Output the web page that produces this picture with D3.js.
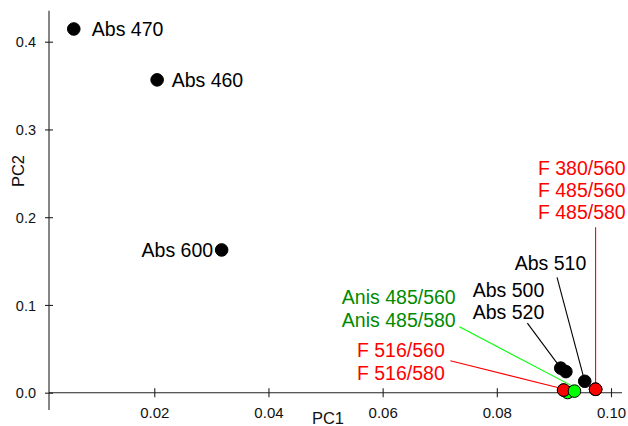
<!DOCTYPE html>
<html>
<head>
<meta charset="utf-8">
<script src="https://cdn.jsdelivr.net/npm/d3@7"></script>
<style>
  html, body { margin: 0; padding: 0; background: #fff; }
  svg { display: block; font-family: "Liberation Sans", Arial, sans-serif; }
</style>
</head>
<body>
<svg id="chart" width="628" height="426"></svg>
<script>
// Loadings of each measurement on the first two principal components
const names = ["Abs 470", "Abs 460", "Abs 600", "Abs 500", "Abs 520", "Abs 510",
               "Anis 485/560", "F 516/560", "F 516/580", "Anis 485/580",
               "F 380/560", "F 485/560", "F 485/580"];
const pc1 = [0.0059, 0.0205, 0.0318, 0.0912, 0.0921, 0.0954,
             0.0924, 0.0917, 0.0917, 0.0936,
             0.0973, 0.0973, 0.0973];
const pc2 = [0.4145, 0.3565, 0.1627, 0.0280, 0.0240, 0.0130,
             0.0002, 0.0030, 0.0030, 0.0018,
             0.0039, 0.0039, 0.0039];
const kinds = ["Abs", "Abs", "Abs", "Abs", "Abs", "Abs",
               "Anis", "F", "F", "Anis",
               "F", "F", "F"];

const xTicks = [0.02, 0.04, 0.06, 0.08, 0.10];
const yTicks = [0.0, 0.1, 0.2, 0.3, 0.4];

const points = names.map((n, i) => ({ name: n, pc1: pc1[i], pc2: pc2[i], kind: kinds[i] }));

const fill = { Abs: "#000000", Anis: "#00ff00", F: "#ff0000" };
const textColor = { Abs: "#000000", Anis: "#008a00", F: "#ff0000" };
const leaderColor = { Abs: "#000000", Anis: "#00ff00", F: "#ff0000" };

const svg = d3.select("#chart");

const x = d3.scaleLinear().domain([0, 0.1]).range([40.1, 611]);
const y = d3.scaleLinear().domain([0, 0.4]).range([392.7, 41.7]);

// Axes cross at PC2 = 0; the vertical axis sits near the left edge of the PC1 range
const axisX0 = x.invert(49), axisX1 = x.invert(622);
const axisY0 = y.invert(410), axisY1 = y.invert(10.7);
const axisColor = "#222";

svg.append("line")
  .attr("x1", x(axisX0)).attr("x2", x(axisX0))
  .attr("y1", y(axisY0)).attr("y2", y(axisY1))
  .attr("stroke", axisColor).attr("stroke-width", 1.1);
svg.append("line")
  .attr("x1", x(axisX0)).attr("x2", x(axisX1))
  .attr("y1", y(0)).attr("y2", y(0))
  .attr("stroke", axisColor).attr("stroke-width", 1.1);

// Bottom axis: ticks crossing the axis line
const gx = svg.append("g")
  .attr("transform", `translate(0,${y(0) - 4.5})`)
  .call(d3.axisBottom(x).tickValues(xTicks).tickSize(9).tickFormat(d3.format(".2f")));
gx.select(".domain").remove();
gx.selectAll(".tick line").attr("stroke", axisColor).attr("stroke-width", 1.1);
gx.selectAll(".tick text")
  .attr("y", 30).attr("dy", 0)
  .attr("fill", "#111")
  .style("font-size", "15px")
  .style("font-family", "'Liberation Sans', Arial, sans-serif");

// Left axis
const gy = svg.append("g")
  .attr("transform", `translate(${x(axisX0) + 4},0)`)
  .call(d3.axisLeft(y).tickValues(yTicks).tickSize(8).tickFormat(d3.format(".1f")));
gy.select(".domain").remove();
gy.selectAll(".tick line").attr("stroke", axisColor).attr("stroke-width", 1.1);
gy.selectAll(".tick text")
  .attr("x", -17).attr("dy", "0.36em")
  .attr("fill", "#111")
  .style("font-size", "14.5px")
  .style("font-family", "'Liberation Sans', Arial, sans-serif");

// Axis titles
svg.append("text")
  .attr("x", 328).attr("y", 424)
  .attr("text-anchor", "middle")
  .style("font-size", "16.5px").attr("fill", "#111")
  .text("PC1");
svg.append("text")
  .attr("transform", "translate(24,171) rotate(-90)")
  .attr("text-anchor", "middle")
  .style("font-size", "16.5px").attr("fill", "#111")
  .text("PC2");

// Labels: single names next to their point, grouped names with leader lines
const labelFont = "19.5px";
const lineHeight = 22.2;
const annotations = [
  { target: "Abs 470", lines: ["Abs 470"], kind: "Abs", dx: 18, dy: 7, anchor: "start" },
  { target: "Abs 460", lines: ["Abs 460"], kind: "Abs", dx: 14.5, dy: 7, anchor: "start" },
  { target: "Abs 600", lines: ["Abs 600"], kind: "Abs", dx: -8.5, dy: 7, anchor: "end" },
  { target: "F 380/560", lines: ["F 380/560", "F 485/560", "F 485/580"], kind: "F",
    dx: -57.7, dy: -214.3, lead: [[0, -162], [0, 0]] },
  { target: "Abs 510", lines: ["Abs 510"], kind: "Abs",
    dx: -70, dy: -111, lead: [[-27.7, -104], [0, 0]] },
  { target: "Abs 500", lines: ["Abs 500", "Abs 520"], kind: "Abs",
    dx: -88, dy: -71.3, lead: [[-33.4, -45], [0, 0]] },
  { target: "Anis 485/580", lines: ["Anis 485/560", "Anis 485/580"], kind: "Anis",
    dx: -232.6, dy: -86.7, lead: [[-115, -64.3], [0, -4]] },
  { target: "F 516/560", lines: ["F 516/560", "F 516/580"], kind: "F",
    dx: -206.7, dy: -32.7, lead: [[-113.3, -29.3], [0, -1]] }
];

const byName = new Map(points.map(p => [p.name, p]));

// Leader lines go underneath the markers
const leaders = svg.append("g");
annotations.filter(a => a.lead).forEach(a => {
  const p = byName.get(a.target);
  const cx = x(p.pc1), cy = y(p.pc2);
  leaders.append("line")
    .attr("x1", cx + a.lead[0][0]).attr("y1", cy + a.lead[0][1])
    .attr("x2", cx + a.lead[1][0]).attr("y2", cy + a.lead[1][1])
    .attr("stroke", leaderColor[a.kind]).attr("stroke-width", 1.1);
});

// Markers
svg.append("g").selectAll("circle")
  .data(points)
  .join("circle")
  .attr("cx", d => x(d.pc1))
  .attr("cy", d => y(d.pc2))
  .attr("r", 6.3)
  .attr("fill", d => fill[d.kind])
  .attr("stroke", "#000")
  .attr("stroke-width", 1);

// Label text
const labels = svg.append("g");
annotations.forEach(a => {
  const p = byName.get(a.target);
  const cx = x(p.pc1), cy = y(p.pc2);
  const t = labels.append("text")
    .attr("x", cx + a.dx).attr("y", cy + a.dy)
    .attr("text-anchor", a.anchor || "start")
    .attr("fill", textColor[a.kind])
    .style("font-size", labelFont);
  a.lines.forEach((line, i) => {
    t.append("tspan")
      .attr("x", cx + a.dx)
      .attr("y", cy + a.dy + i * lineHeight)
      .text(line);
  });
});
</script>
</body>
</html>
